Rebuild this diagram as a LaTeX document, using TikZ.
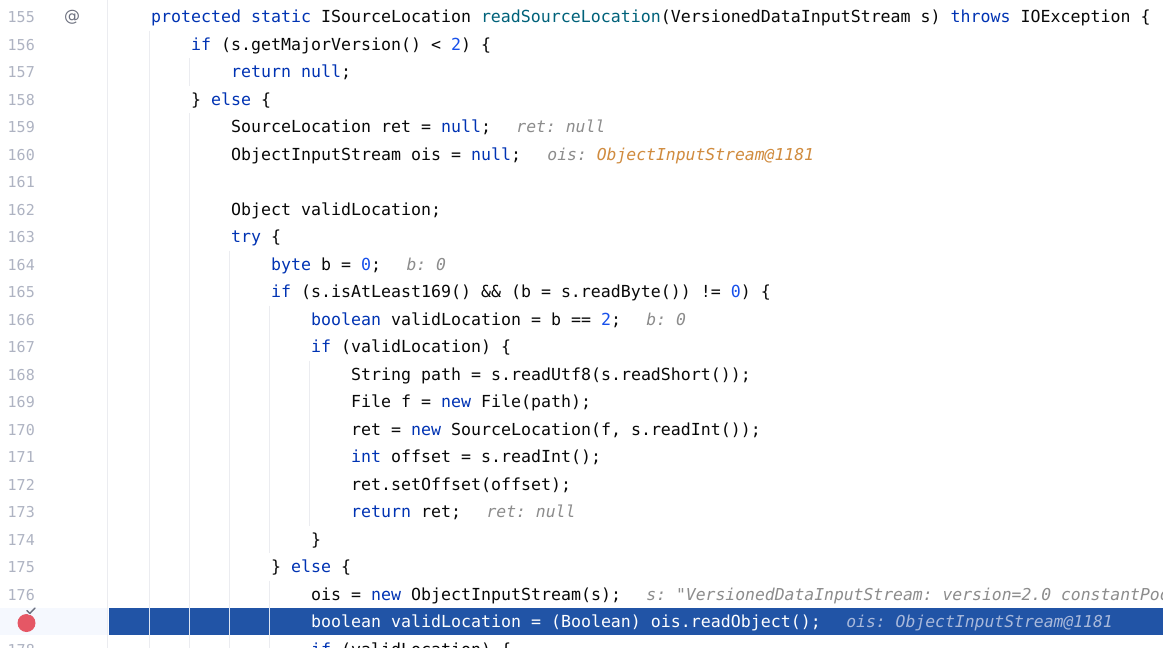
\documentclass[tikz,border=0pt]{standalone}
\usepackage{fontspec}
\setmonofont{DejaVu Sans Mono}
\newfontfamily\uisans{DejaVu Sans}
\definecolor{codefg}{HTML}{080808}
\definecolor{kwc}{HTML}{0033B3}
\definecolor{fnc}{HTML}{00627A}
\definecolor{numc}{HTML}{1750EB}
\definecolor{hintc}{HTML}{8C8C8C}
\definecolor{orangec}{HTML}{D08B3E}
\definecolor{hlblue}{HTML}{2154A6}
\definecolor{hlhint}{HTML}{A9B9DB}
\definecolor{guidec}{HTML}{EBECF0}
\definecolor{lnumc}{HTML}{AEB3C2}
\definecolor{gutterhl}{HTML}{F5F8FE}
\definecolor{bpred}{HTML}{E55765}
\definecolor{iconc}{HTML}{6C707E}
\newcommand{\ckw}[1]{\textcolor{kwc}{#1}}
\newcommand{\cfn}[1]{\textcolor{fnc}{#1}}
\newcommand{\cnum}[1]{\textcolor{numc}{#1}}
\newcommand{\corg}[1]{\textcolor{orangec}{#1}}
\begin{document}
\begin{tikzpicture}[x=1pt,y=-1pt,
  code/.style={anchor=base west,inner sep=0pt,font=\ttfamily\fontsize{16.6}{20}\selectfont,text=codefg},
  hint/.style={anchor=base west,inner sep=0pt,font=\ttfamily\itshape\fontsize{16.4}{20}\selectfont,text=hintc},
  lnum/.style={anchor=base east,inner sep=0pt,font=\ttfamily\fontsize{15}{18}\selectfont,text=lnumc},
  guide/.style={draw=guidec,line width=1pt},
  hlguide/.style={draw=white!85!hlblue,line width=1pt}]
\useasboundingbox (0,0) rectangle (1163,648);
\clip (0,0) rectangle (1163,648);
\fill[white] (0,0) rectangle (1163,648);
% separator and indent guides
\draw[guide] (107.5,0) -- (107.5,648);
\draw[guide] (149.5,30.75) -- (149.5,648);
\draw[guide] (189.5,58.25) -- (189.5,85.75);
\draw[guide] (189.5,113.25) -- (189.5,648);
\draw[guide] (229.5,250.75) -- (229.5,648);
\draw[guide] (269.5,305.75) -- (269.5,553.25);
\draw[guide] (269.5,580.75) -- (269.5,648);
\draw[guide] (309.5,360.75) -- (309.5,525.75);
% highlighted row
\fill[gutterhl] (0,607.5) rectangle (107,635);
\fill[hlblue] (109,607.5) rectangle (1163,635);
\foreach \gx in {149.5,189.5,229.5,269.5}
  \draw[hlguide] (\gx,607.5) -- (\gx,635);
% line numbers
\foreach \n in {155,...,176,178}
  \node[lnum] (ln\n) at (35,{22.5+(\n-155)*27.5}) {\n};
% gutter icons
\node[inner sep=0pt,font=\uisans\fontsize{16}{18}\selectfont,text=iconc] (at155) at (72,17.5) {@};
\fill[bpred] (26.5,623) circle (9);
\draw[gutterhl,line width=3.2pt,line cap=round,line join=round] (26.8,610.5) -- (29.8,613.5) -- (35,608);
\draw[iconc,line width=1.4pt,line cap=round,line join=round] (26.8,610.5) -- (29.8,613.5) -- (35,608);
% code
\node[code] (c155) at (151,22.5) {\ckw{protected static} ISourceLocation \cfn{readSourceLocation}(VersionedDataInputStream s) \ckw{throws} IOException \{};
\node[code] (c156) at (191,50) {\ckw{if} (s.getMajorVersion() < \cnum{2}) \{};
\node[code] (c157) at (231,77.5) {\ckw{return null};};
\node[code] (c158) at (191,105) {\} \ckw{else} \{};
\node[code] (c159) at (231,132.5) {SourceLocation ret = \ckw{null};};
\node[code] (c160) at (231,160) {ObjectInputStream ois = \ckw{null};};
\node[code] (c162) at (231,215) {Object validLocation;};
\node[code] (c163) at (231,242.5) {\ckw{try} \{};
\node[code] (c164) at (271,270) {\ckw{byte} b = \cnum{0};};
\node[code] (c165) at (271,297.5) {\ckw{if} (s.isAtLeast169() \&\& (b = s.readByte()) != \cnum{0}) \{};
\node[code] (c166) at (311,325) {\ckw{boolean} validLocation = b == \cnum{2};};
\node[code] (c167) at (311,352.5) {\ckw{if} (validLocation) \{};
\node[code] (c168) at (351,380) {String path = s.readUtf8(s.readShort());};
\node[code] (c169) at (351,407.5) {File f = \ckw{new} File(path);};
\node[code] (c170) at (351,435) {ret = \ckw{new} SourceLocation(f, s.readInt());};
\node[code] (c171) at (351,462.5) {\ckw{int} offset = s.readInt();};
\node[code] (c172) at (351,490) {ret.setOffset(offset);};
\node[code] (c173) at (351,517.5) {\ckw{return} ret;};
\node[code] (c174) at (311,545) {\}};
\node[code] (c175) at (271,572.5) {\} \ckw{else} \{};
\node[code] (c176) at (311,600) {ois = \ckw{new} ObjectInputStream(s);};
\node[code,text=white] (c177) at (311,627.5) {boolean validLocation = (Boolean) ois.readObject();};
\node[code] (c178) at (311,655) {\ckw{if} (validLocation) \{};
% inline debugger hints
\node[hint] (h159) at ([xshift=25pt]c159.base east) {ret: null};
\node[hint] (h160) at ([xshift=26pt]c160.base east) {ois: \corg{ObjectInputStream@1181}};
\node[hint] (h164) at ([xshift=25pt]c164.base east) {b: 0};
\node[hint] (h166) at ([xshift=25pt]c166.base east) {b: 0};
\node[hint] (h173) at ([xshift=25pt]c173.base east) {ret: null};
\node[hint] (h176) at ([xshift=25pt]c176.base east) {s: "VersionedDataInputStream: version=2.0 constantPool"};
\node[hint,text=hlhint] (h177) at ([xshift=25pt]c177.base east) {ois: ObjectInputStream@1181};
\end{tikzpicture}
\end{document}
